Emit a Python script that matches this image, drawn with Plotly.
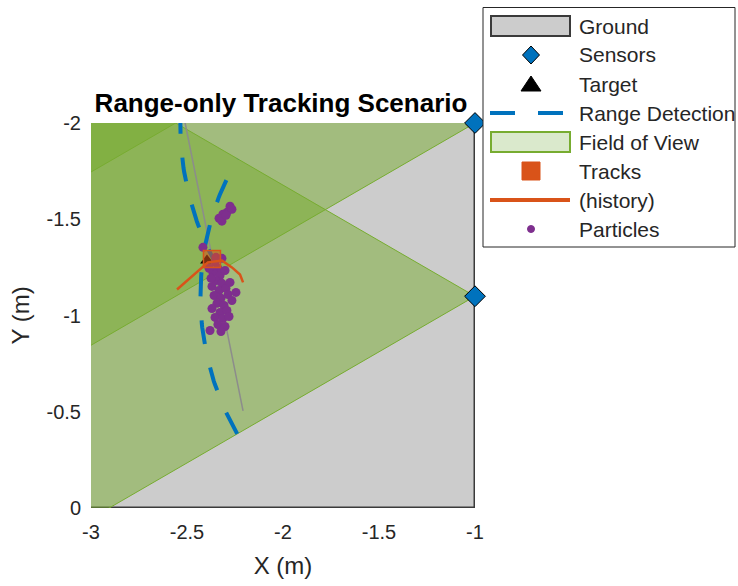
import numpy as np
import plotly.graph_objects as go

# ---------------- data ----------------
sensor_x = [-1.0, -1.0, -1.0]
sensor_y = [-2.9, -2.0, -1.1]
fov_center_deg = 180.0
fov_width_deg = 60.0
fov_max_range = 4.0

ground_x = [-4.0, -1.0, -1.0, -4.0, -4.0]
ground_y = [-3.0, -3.0, 0.0, 0.0, -3.0]

detection_sensor = [1, 2]
detection_range = [1.536, 1.43]

truth_x = [-2.53, -2.208]
truth_y = [-2.10, -0.505]

target_x = [-2.396]
target_y = [-1.286]

track_x = [-2.370]
track_y = [-1.293]

history_x = [-2.552, -2.391, -2.318, -2.266, -2.224, -2.208]
history_y = [-1.135, -1.276, -1.286, -1.250, -1.213, -1.172]

particles_x = [-2.276, -2.292, -2.313, -2.333, -2.318, -2.266, -2.297, -2.417,
               -2.354, -2.339, -2.365, -2.328, -2.302, -2.349, -2.318, -2.370,
               -2.333, -2.297, -2.359, -2.323, -2.286, -2.344, -2.307, -2.370,
               -2.328, -2.292, -2.354, -2.313, -2.281, -2.339, -2.302, -2.380,
               -2.323, -2.266, -2.245, -2.375, -2.276, -2.349, -2.318, -2.385]
particles_y = [-1.568, -1.536, -1.526, -1.505, -1.490, -1.552, -1.521, -1.354,
               -1.276, -1.245, -1.224, -1.208, -1.234, -1.182, -1.167, -1.151,
               -1.130, -1.141, -1.104, -1.089, -1.109, -1.063, -1.052, -1.036,
               -1.016, -1.026, -0.990, -0.984, -0.995, -0.953, -0.943, -0.922,
               -0.917, -1.078, -1.120, -1.193, -1.172, -1.302, -1.297, -1.245]

x_ticks = [-3, -2.5, -2, -1.5, -1]
x_tick_labels = ["-3", "-2.5", "-2", "-1.5", "-1"]
y_ticks = [-2, -1.5, -1, -0.5, 0]
y_tick_labels = ["-2", "-1.5", "-1", "-0.5", "0"]

legend_labels = ["Ground", "Sensors", "Target", "Range Detection",
                 "Field of View", "Tracks", "(history)", "Particles"]

# ---------------- styles / layout ----------------
BLUE = "#0072BD"
ORANGE = "#D95319"
GREEN = "#77AC30"
PURPLE = "#7E2F8E"
GROUND_FILL = "#cccccc"
GROUND_EDGE = "#3a3a3a"
FONT = "Liberation Sans, Arial, sans-serif"

W, H = 738, 586
ML, MR, MT, MB = 91, 263, 123, 78
PW, PH = W - ML - MR, H - MT - MB


def arc(cx, cy, r, a0, a1, n=80):
    th = np.radians(np.linspace(a0, a1, n))
    return cx + r * np.cos(th), cy + r * np.sin(th)


def pxx(x):  # page pixel -> paper x
    return (x - ML) / PW


def pyy(y):  # page pixel -> paper y
    return (H - MB - y) / PH


fig = go.Figure()

# Ground
fig.add_trace(go.Scatter(
    x=ground_x, y=ground_y, mode="lines", fill="toself",
    fillcolor=GROUND_FILL, line=dict(color=GROUND_EDGE, width=3),
    name="Ground", hoverinfo="skip"))

# Field of view wedges
half = fov_width_deg / 2.0
for i, (sx, sy) in enumerate(zip(sensor_x, sensor_y)):
    ax, ay = arc(sx, sy, fov_max_range, fov_center_deg - half, fov_center_deg + half)
    fig.add_trace(go.Scatter(
        x=[sx] + list(ax) + [sx], y=[sy] + list(ay) + [sy], mode="lines", fill="toself",
        fillcolor="rgba(119,172,48,0.5)", line=dict(color=GREEN, width=1),
        name="Field of View", hoverinfo="skip"))

# Truth path
fig.add_trace(go.Scatter(
    x=truth_x, y=truth_y, mode="lines",
    line=dict(color="#8c8c8c", width=1.5), name="truth", hoverinfo="skip"))

# Range detections (arcs around the detecting sensors)
dx, dy = [], []
for si, r in zip(detection_sensor, detection_range):
    ax, ay = arc(sensor_x[si], sensor_y[si], r, fov_center_deg - half, fov_center_deg + half)
    dx += list(ax) + [None]
    dy += list(ay) + [None]
fig.add_trace(go.Scatter(
    x=dx, y=dy, mode="lines", line=dict(color=BLUE, width=4, dash="24px,24px"),
    name="Range Detection", hoverinfo="skip"))

# Target
fig.add_trace(go.Scatter(
    x=target_x, y=target_y, mode="markers",
    marker=dict(symbol="triangle-up", size=12, color="black"), name="Target"))

# Particles
fig.add_trace(go.Scatter(
    x=particles_x, y=particles_y, mode="markers",
    marker=dict(size=9, color=PURPLE), name="Particles"))

# Track history
fig.add_trace(go.Scatter(
    x=history_x, y=history_y, mode="lines",
    line=dict(color=ORANGE, width=2.5), name="(history)"))

# Track
fig.add_trace(go.Scatter(
    x=track_x, y=track_y, mode="markers",
    marker=dict(symbol="square", size=17, color="rgba(217,83,25,0.55)",
                line=dict(color=ORANGE, width=1.5)), name="Tracks"))

# Sensors
fig.add_trace(go.Scatter(
    x=sensor_x, y=sensor_y, mode="markers", cliponaxis=False,
    marker=dict(symbol="diamond", size=16, color=BLUE, line=dict(color="black", width=1)),
    name="Sensors"))

# ---------------- legend (drawn as a boxed key) ----------------
LEG_L, LEG_T, LEG_R, LEG_B = 483, 7.5, 735, 247
ROW0, ROW_DY = 26, 29
SYM_CX, SW_L, SW_R, TXT_X = 531, 491, 570, 577

shapes = [dict(type="rect", xref="paper", yref="paper",
               x0=pxx(LEG_L), x1=pxx(LEG_R), y0=pyy(LEG_B), y1=pyy(LEG_T),
               fillcolor="white", line=dict(color="#262626", width=1), layer="above")]
annotations = []
for i, lab in enumerate(legend_labels):
    cy = ROW0 + ROW_DY * i
    annotations.append(dict(text=lab, x=pxx(TXT_X), y=pyy(cy), xref="paper", yref="paper",
                            xanchor="left", yanchor="middle", showarrow=False,
                            font=dict(family=FONT, size=21, color="#262626")))
    if lab == "Ground":
        shapes.append(dict(type="rect", xref="paper", yref="paper", layer="above",
                           x0=pxx(SW_L), x1=pxx(SW_R), y0=pyy(cy + 10), y1=pyy(cy - 10),
                           fillcolor=GROUND_FILL, line=dict(color=GROUND_EDGE, width=2)))
    elif lab == "Field of View":
        shapes.append(dict(type="rect", xref="paper", yref="paper", layer="above",
                           x0=pxx(SW_L), x1=pxx(SW_R), y0=pyy(cy + 10), y1=pyy(cy - 10),
                           fillcolor="#dae9cc", line=dict(color=GREEN, width=2)))
    elif lab == "Sensors":
        path = "M{},{} L{},{} L{},{} L{},{} Z".format(
            pxx(SYM_CX), pyy(cy - 9), pxx(SYM_CX + 8.5), pyy(cy),
            pxx(SYM_CX), pyy(cy + 9), pxx(SYM_CX - 8.5), pyy(cy))
        shapes.append(dict(type="path", path=path, xref="paper", yref="paper", layer="above",
                           fillcolor=BLUE, line=dict(color="black", width=1)))
    elif lab == "Target":
        path = "M{},{} L{},{} L{},{} Z".format(
            pxx(SYM_CX), pyy(cy - 8), pxx(SYM_CX + 10), pyy(cy + 7),
            pxx(SYM_CX - 10), pyy(cy + 7))
        shapes.append(dict(type="path", path=path, xref="paper", yref="paper", layer="above",
                           fillcolor="black", line=dict(color="black", width=1)))
    elif lab == "Range Detection":
        for a, b in [(490, 515), (538, 563)]:
            shapes.append(dict(type="line", xref="paper", yref="paper", layer="above",
                               x0=pxx(a), x1=pxx(b), y0=pyy(cy), y1=pyy(cy),
                               line=dict(color=BLUE, width=4)))
    elif lab == "Tracks":
        shapes.append(dict(type="rect", xref="paper", yref="paper", layer="above",
                           x0=pxx(SYM_CX - 9), x1=pxx(SYM_CX + 9),
                           y0=pyy(cy + 9), y1=pyy(cy - 9),
                           fillcolor=ORANGE, line=dict(color=ORANGE, width=1)))
    elif lab == "(history)":
        shapes.append(dict(type="line", xref="paper", yref="paper", layer="above",
                           x0=pxx(490), x1=pxx(570), y0=pyy(cy), y1=pyy(cy),
                           line=dict(color=ORANGE, width=4)))
    elif lab == "Particles":
        shapes.append(dict(type="circle", xref="paper", yref="paper", layer="above",
                           x0=pxx(SYM_CX - 3.5), x1=pxx(SYM_CX + 3.5),
                           y0=pyy(cy + 3.5), y1=pyy(cy - 3.5),
                           fillcolor=PURPLE, line=dict(color=PURPLE, width=1)))

fig.update_layout(
    width=W, height=H,
    margin=dict(l=ML, r=MR, t=MT, b=MB, pad=0, autoexpand=False),
    paper_bgcolor="white", plot_bgcolor="white",
    font=dict(family=FONT, size=20, color="#262626"),
    title=dict(text="<b>Range-only Tracking Scenario</b>", x=281 / W, xanchor="center",
               y=1 - 103 / H, yanchor="middle", yref="container",
               font=dict(family=FONT, size=26, color="black")),
    showlegend=False,
    shapes=shapes, annotations=annotations,
    xaxis=dict(range=[-3, -1], tickvals=x_ticks, ticktext=x_tick_labels,
               showgrid=False, zeroline=False, showline=False,
               ticks="outside", ticklen=6, tickcolor="rgba(0,0,0,0)",
               tickfont=dict(size=20),
               title=dict(text="X (m)", font=dict(size=24), standoff=15)),
    yaxis=dict(range=[0, -2], tickvals=y_ticks, ticktext=y_tick_labels,
               showgrid=False, zeroline=False, showline=False,
               ticks="outside", ticklen=5, tickcolor="rgba(0,0,0,0)",
               tickfont=dict(size=20),
               title=dict(text="Y (m)", font=dict(size=24), standoff=10)),
)

fig.write_html("out.html", config={"displayModeBar": False},
               post_script="document.body.style.margin='0px';")
